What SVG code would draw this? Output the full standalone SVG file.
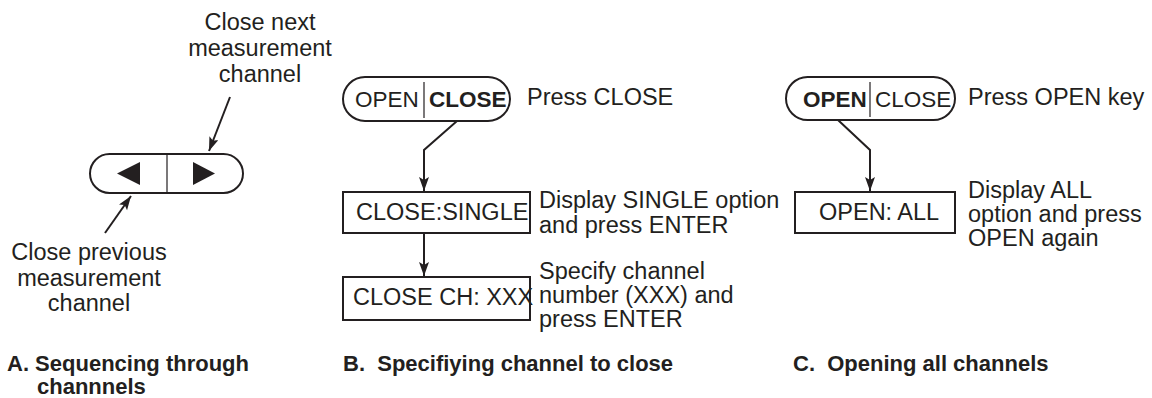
<svg xmlns="http://www.w3.org/2000/svg" width="1152" height="398" viewBox="0 0 1152 398">
<defs>
<style>
.t{font-family:"Liberation Sans",Arial,sans-serif;font-size:23.5px;fill:#231f20}
.k{font-family:"Liberation Sans",Arial,sans-serif;font-size:22.5px;fill:#231f20}
.b{font-weight:bold}
.cap{font-family:"Liberation Sans",Arial,sans-serif;font-size:22px;font-weight:bold;fill:#231f20}
.shape{fill:#fff;stroke:#231f20;stroke-width:2}
.div{stroke:#231f20;stroke-width:1.2}
.tri{fill:#231f20}
.con{fill:none;stroke:#231f20;stroke-width:2;marker-end:url(#ah)}
</style>
<marker id="ah" markerUnits="userSpaceOnUse" markerWidth="16" markerHeight="12" refX="14" refY="5" orient="auto">
<path d="M0,0 L14,5 L0,10 L3,5 z" fill="#231f20"/>
</marker>
</defs>
<rect width="1152" height="398" fill="#fff"/>

<g id="connectors">
<line class="con" x1="230" y1="97" x2="209" y2="151"/>
<line class="con" x1="105" y1="233" x2="131" y2="196"/>
<polyline class="con" points="457,121 424,150 424,191"/>
<line class="con" x1="424" y1="233" x2="424" y2="276"/>
<polyline class="con" points="838,120 870,150 870,191"/>
</g>

<g id="panelA-keys">
<rect class="shape" x="90" y="154" width="153" height="39" rx="19.5"/>
<line class="div" x1="167" y1="154" x2="167" y2="193"/>
<polygon class="tri" points="117,173.5 140,162 140,185"/>
<polygon class="tri" points="215,173.5 193,162 193,185"/>
</g>
<g id="label-next">
<text class="t" text-anchor="middle" x="260" y="30">Close next</text>
<text class="t" text-anchor="middle" x="260" y="56">measurement</text>
<text class="t" text-anchor="middle" x="260" y="82">channel</text>
</g>
<g id="label-prev">
<text class="t" text-anchor="middle" x="89" y="260">Close previous</text>
<text class="t" text-anchor="middle" x="89" y="286">measurement</text>
<text class="t" text-anchor="middle" x="89" y="311">channel</text>
</g>

<g id="panelB-key">
<rect class="shape" x="343" y="77" width="167" height="44" rx="22"/>
<line class="div" x1="424" y1="82" x2="424" y2="118"/>
<text class="k" x="355" y="107">OPEN</text>
<text class="k b" x="429" y="107">CLOSE</text>
<text class="t" x="527" y="105">Press CLOSE</text>
</g>
<g id="panelB-single">
<rect class="shape" x="343" y="192" width="187" height="41"/>
<text class="t" x="356" y="220">CLOSE:SINGLE</text>
<text class="t" x="539" y="208">Display SINGLE option</text>
<text class="t" x="539" y="233">and press ENTER</text>
</g>
<g id="panelB-channel">
<rect class="shape" x="343" y="277" width="187" height="43"/>
<text class="t" x="353" y="305">CLOSE CH: XXX</text>
<text class="t" x="539" y="279">Specify channel</text>
<text class="t" x="539" y="303">number (XXX) and</text>
<text class="t" x="539" y="327">press ENTER</text>
</g>

<g id="panelC-key">
<rect class="shape" x="786" y="77" width="169" height="43" rx="21.5"/>
<line class="div" x1="870" y1="82" x2="870" y2="117"/>
<text class="k b" x="803" y="107">OPEN</text>
<text class="k" x="875" y="107">CLOSE</text>
<text class="t" x="968" y="105">Press OPEN key</text>
</g>
<g id="panelC-all">
<rect class="shape" x="795" y="192" width="160" height="41"/>
<text class="t" x="819" y="220">OPEN: ALL</text>
<text class="t" x="968" y="198">Display ALL</text>
<text class="t" x="968" y="222">option and press</text>
<text class="t" x="968" y="246">OPEN again</text>
</g>

<g id="captions">
<text class="cap" x="7" y="371">A. Sequencing through</text>
<text class="cap" x="37" y="394">channnels</text>
<text class="cap" x="343" y="371" xml:space="preserve">B.  Specifiying channel to close</text>
<text class="cap" x="793" y="371" xml:space="preserve">C.  Opening all channels</text>
</g>
</svg>
